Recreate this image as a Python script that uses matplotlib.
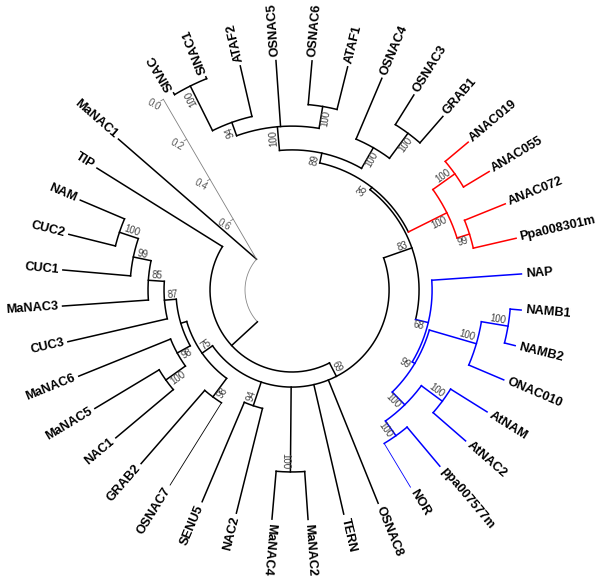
import numpy as np
import matplotlib
matplotlib.use("Agg")
import matplotlib.pyplot as plt

# leaves, clockwise from the top
leaves = ["SINAC", "SINAC1", "ATAF2", "OSNAC5", "OSNAC6", "ATAF1", "OSNAC4",
          "OSNAC3", "GRAB1", "ANAC019", "ANAC055", "ANAC072", "Ppa008301m",
          "NAP", "NAMB1", "NAMB2", "ONAC010", "AtNAM", "AtNAC2", "ppa007577m",
          "NOR", "OSNAC8", "TERN", "MaNAC2", "MaNAC4", "NAC2", "SENU5",
          "OSNAC7", "GRAB2", "NAC1", "MaNAC5", "MaNAC6", "CUC3", "MaNAC3",
          "CUC1", "CUC2", "NAM", "TIP", "MaNAC1"]
leaf_depth = 0.80

# internal nodes: children, distance from root, bootstrap
node_names = ["n_sinac", "n_ataf2", "n_ataf1", "n_osnac5", "n_grab1", "n_osnac4",
              "n_89", "n_anac055", "n_ppa083", "n_red", "n_35", "n_namb",
              "n_onac010", "n_atnam", "n_nor", "n_q", "n_99", "n_blue", "n_83",
              "n_manac24", "n_senu5", "n_grab2", "n_nac1", "n_manac6", "n_nam",
              "n_cuc1", "n_manac3", "n_cuc3", "n_cuc", "n_75", "n_69", "n_tip",
              "root"]
node_children = [
    ["SINAC", "SINAC1"], ["n_sinac", "ATAF2"], ["OSNAC6", "ATAF1"],
    ["n_ataf2", "OSNAC5", "n_ataf1"], ["OSNAC3", "GRAB1"], ["OSNAC4", "n_grab1"],
    ["n_osnac5", "n_osnac4"], ["ANAC019", "ANAC055"], ["ANAC072", "Ppa008301m"],
    ["n_anac055", "n_ppa083"], ["n_89", "n_red"], ["NAMB1", "NAMB2"],
    ["n_namb", "ONAC010"], ["AtNAM", "AtNAC2"], ["ppa007577m", "NOR"],
    ["n_atnam", "n_nor"], ["n_onac010", "n_q"], ["NAP", "n_99"],
    ["n_35", "n_blue"], ["MaNAC2", "MaNAC4"], ["NAC2", "SENU5"],
    ["OSNAC7", "GRAB2"], ["NAC1", "MaNAC5"], ["n_nac1", "MaNAC6"],
    ["CUC2", "NAM"], ["CUC1", "n_nam"], ["MaNAC3", "n_cuc1"],
    ["CUC3", "n_manac3"], ["n_manac6", "n_cuc3"], ["n_grab2", "n_cuc"],
    ["n_83", "OSNAC8", "TERN", "n_manac24", "n_senu5", "n_75"],
    ["n_69", "TIP"], ["n_tip", "MaNAC1"]]
node_depth = [0.791, 0.573, 0.608, 0.511, 0.647, 0.511,
              0.407, 0.669, 0.608, 0.551, 0.363, 0.752,
              0.634, 0.612, 0.577, 0.498, 0.420, 0.407, 0.350,
              0.590, 0.328, 0.376, 0.472, 0.367, 0.590,
              0.503, 0.424, 0.354, 0.302, 0.275, 0.219, 0.153,
              0.0]
node_boot = [100, 94, 100, 100, 100, 100,
             89, 100, 99, 100, 35, 100,
             100, 100, 100, 100, 99, 68, 83,
             100, 94, 98, 100, 98, 100,
             99, 85, 87, None, 75, 69, None,
             None]

scale_ticks = [0.0, 0.2, 0.4, 0.6]

# layout / style
R0 = 47.0          # radius of root arc, px
PX = 228.75        # px per unit branch length
START, STEP = 121.0, 9.0
FLIP = (130, 260)
SCALE_ANGLE = 124.0
clade_color = {"n_red": "#ff0000", "n_blue": "#0000ff"}
thin_leaves = {"OSNAC7", "NOR"}
boot_side = {"n_sinac": 1, "n_ataf2": 1, "n_ataf1": -1, "n_osnac5": 1,
             "n_grab1": -1, "n_osnac4": -1, "n_89": 1, "n_anac055": 1,
             "n_ppa083": -1, "n_red": -1, "n_35": 1, "n_namb": 1,
             "n_onac010": 1, "n_atnam": 1, "n_nor": -1, "n_q": -1, "n_99": -1,
             "n_blue": -1, "n_83": 1, "n_manac24": -1, "n_senu5": -1,
             "n_grab2": 1, "n_nac1": 1, "n_manac6": 1, "n_nam": -1,
             "n_cuc1": -1, "n_manac3": -1, "n_cuc3": -1, "n_75": -1, "n_69": 1}
LW = 1.1

children = dict(zip(node_names, node_children))
depth = dict(zip(node_names, node_depth))
depth.update({l: leaf_depth for l in leaves})
boot = dict(zip(node_names, node_boot))
radius = {n: R0 + d * PX for n, d in depth.items()}

angle = {l: START - STEP * i for i, l in enumerate(leaves)}


def place(n):
    if n not in angle:
        a = [place(c) for c in children[n]]
        angle[n] = (max(a) + min(a)) / 2
    return angle[n]


place("root")

color = {}


def paint(n, c):
    c = clade_color.get(n, c)
    color[n] = c
    for k in children.get(n, []):
        paint(k, c)


paint("root", "black")


def xy(a, r):
    t = np.radians(a)
    return r * np.cos(t), r * np.sin(t)


def text_rot(a):
    a = a % 360
    flipped = FLIP[0] <= a <= FLIP[1]
    return (a - 180 if flipped else a), flipped


fig = plt.figure(figsize=(6, 5.8), dpi=100)
ax = fig.add_axes([0, 0, 1, 1])
ax.set_xlim(-292, 308)
ax.set_ylim(-290, 290)
ax.axis("off")

for n in node_names:
    kids = children[n]
    a = [angle[k] for k in kids]
    t = np.linspace(min(a), max(a), 200)
    x, y = xy(t, radius[n])
    if n == "root":
        ax.plot(x, y, color="#888888", lw=0.6)
    else:
        ax.plot(x, y, color=color[n], lw=LW, solid_capstyle="projecting")
    for k in kids:
        x, y = xy(np.array([angle[k]] * 2), np.array([radius[n], radius[k]]))
        lw = 0.6 if k in thin_leaves else LW
        ax.plot(x, y, color=color[k], lw=lw, solid_capstyle="projecting")

for l in leaves:
    rot, fl = text_rot(angle[l])
    x, y = xy(angle[l], radius[l] + 4)
    ax.text(x, y, l, rotation=rot, rotation_mode="anchor",
            ha="right" if fl else "left", va="center",
            fontsize=9.2, fontweight="bold", family="Liberation Sans")

for n in node_names:
    if boot[n] is None:
        continue
    rot, fl = text_rot(angle[n])
    r = radius[n] - 3
    da = np.degrees(5.0 / r) * boot_side[n]
    x, y = xy(angle[n] + da, r)
    ax.text(x, y, str(boot[n]), rotation=rot, rotation_mode="anchor",
            ha="left" if fl else "right", va="center",
            fontsize=7, color="#404040", family="Liberation Sans")

# distance scale, from the tips down to the root
p0 = np.array(xy(SCALE_ANGLE, R0 + leaf_depth * PX))
p1 = np.array(xy(angle["MaNAC1"], R0))
ax.plot([p0[0], p1[0]], [p0[1], p1[1]], color="#808080", lw=0.6)
d = (p1 - p0) / np.hypot(*(p1 - p0))
perp = np.array([d[1], -d[0]])
for v in scale_ticks:
    p = p0 + (p1 - p0) * v / leaf_depth
    q = p + 3 * perp
    ax.plot([p[0], q[0]], [p[1], q[1]], color="#808080", lw=0.6)
    s = p + 11 * perp
    ax.text(s[0], s[1], f"{v:.1f}", rotation=-30, rotation_mode="anchor",
            ha="center", va="center", fontsize=7, color="#555555",
            family="Liberation Sans")

fig.savefig("out.png", dpi=100)
